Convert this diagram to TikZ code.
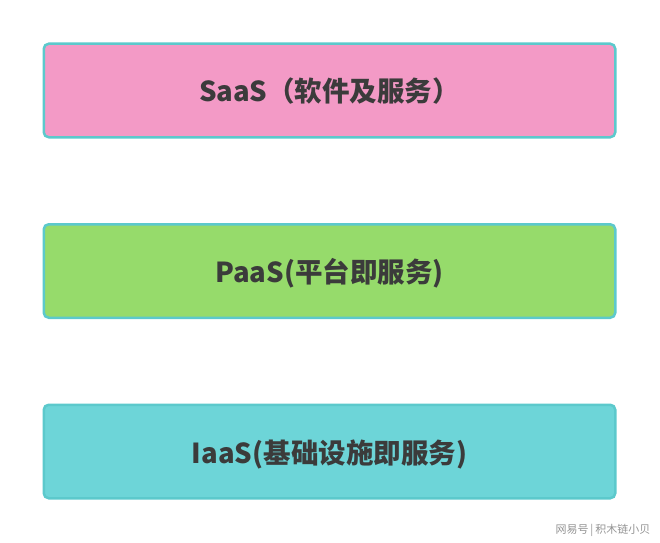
\documentclass[tikz,border=0pt]{standalone}
\usepackage{fontspec}
\newfontfamily\cjk{Noto Sans CJK SC}
\usetikzlibrary{positioning}
\definecolor{edgeteal}{HTML}{5CC9CC}
\definecolor{saaspink}{HTML}{F39AC6}
\definecolor{paasgreen}{HTML}{96DB6B}
\definecolor{iaasteal}{HTML}{6DD5D8}
\definecolor{labelink}{HTML}{3B3B3B}

\begin{document}
\begin{tikzpicture}[
        x=1pt, y=1pt,
        every node/.style={font={\cjk}},
        layer/.style={draw=edgeteal, line width=2.5pt, rounded corners=5pt, minimum width=571.5pt, minimum height=93.5pt, inner sep=0pt, text height=29pt, text depth=6pt, text=labelink, font={\cjk\bfseries\fontsize{27.5}{32}\selectfont}},
        mark text/.style={text=gray!85, font={\cjk\fontsize{11}{13}\selectfont}, inner sep=0pt},
        ]
        \useasboundingbox (0,0) rectangle (660,542);
        \node [layer, fill=saaspink] (saas) at (329.5,451.5) {SaaS（软件及服务）};
        \node [layer, fill=paasgreen, below=84.5pt of saas] (paas) {PaaS(平台即服务)};
        \node [layer, fill=iaasteal, below=84.5pt of paas] (iaas) {IaaS(基础设施即服务)};
        \node [mark text, anchor=east] (mark) at (650.5,12) {网易号\,|\,积木链小贝};
    \end{tikzpicture}
\end{document}
